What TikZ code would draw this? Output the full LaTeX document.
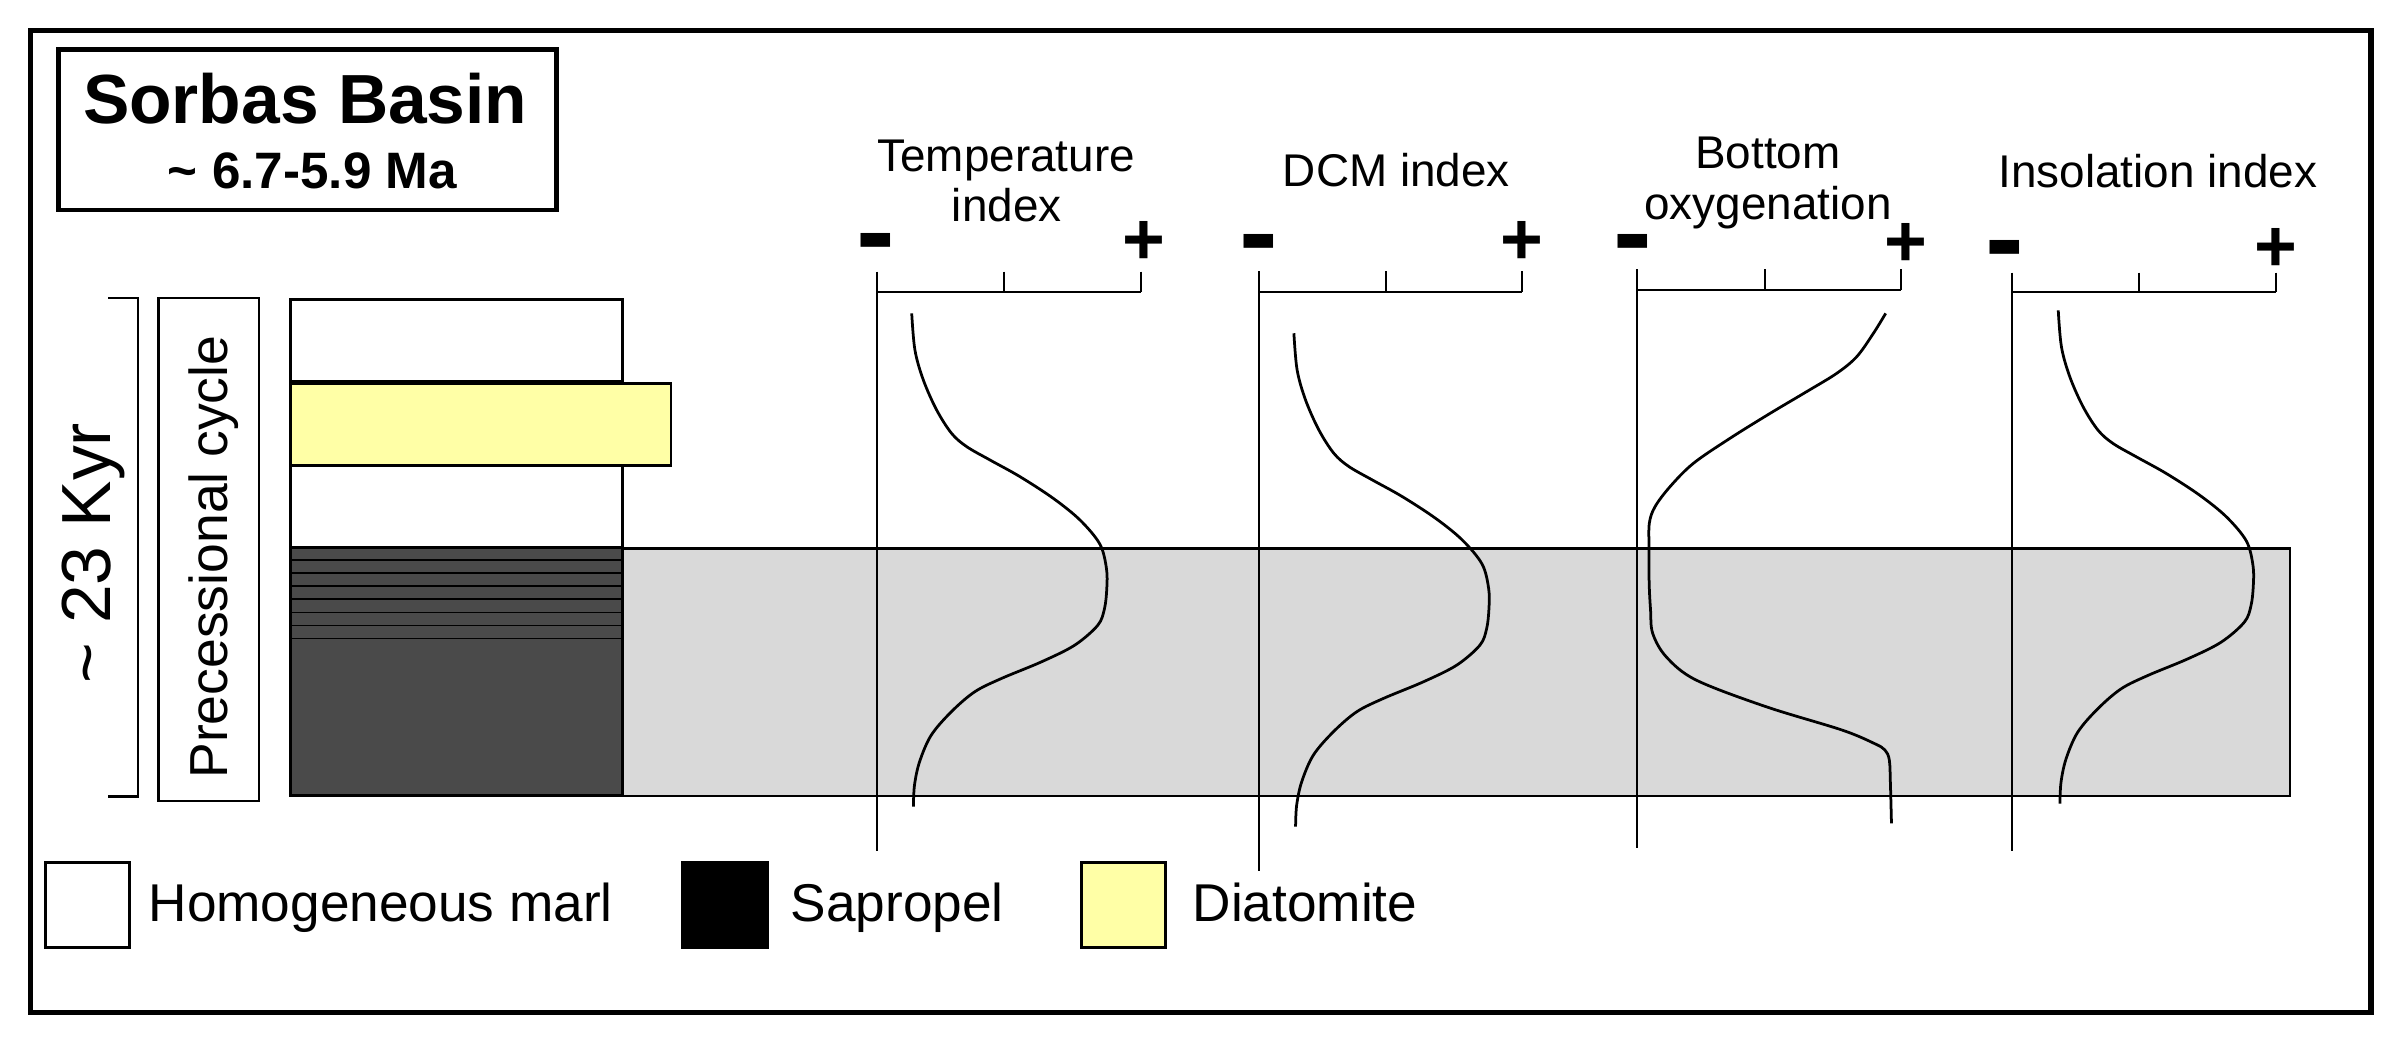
\documentclass[tikz,border=0pt]{standalone}
\usepackage{fontspec}
\setmainfont{Liberation Sans}
\definecolor{sapro}{HTML}{4A4A4A}
\definecolor{band}{HTML}{D9D9D9}
\definecolor{diat}{HTML}{FFFFA6}
\begin{document}
\begin{tikzpicture}[x=1pt,y=-1pt,
  frame/.style={draw=black,line width=3.5pt},
  box/.style={draw=black,line width=1.8pt},
  axis/.style={draw=black,line width=1.3pt},
  curve/.style={draw=black,line width=1.8pt},
  lbl/.style={inner sep=0pt,anchor=base,font=\fontsize{30}{33}\selectfont},
  leg/.style={inner sep=0pt,anchor=base west,font=\fontsize{34.8}{40}\selectfont},
  plussign/.style={inner sep=0pt,font=\bfseries\fontsize{48}{48}\selectfont},
  minussign/.style={inner sep=0pt,font=\bfseries\fontsize{76}{76}\selectfont}]
\useasboundingbox[fill=white] (0,0) rectangle (1568,683);
% outer frame
\draw[frame] (20,20) rectangle (1551,662.4);
% title
\draw[draw=black,line width=3.2pt] (38.3,32.5) rectangle (363.9,137.4);
\node[inner sep=0pt,anchor=base,font=\bfseries\fontsize{45.5}{50}\selectfont] (title) at (199.7,81.1) {Sorbas Basin};
\node[inner sep=0pt,anchor=base,font=\bfseries\fontsize{33.5}{40}\selectfont] (age) at (204.4,123.2) {\textasciitilde{} 6.7-5.9 Ma};
% bracket and cycle label
\draw[line width=1.5pt] (70.7,195) -- (90.5,195) -- (90.5,521) -- (70.7,521);
\node[inner sep=0pt,anchor=base,rotate=90,font=\fontsize{45.5}{50}\selectfont] (kyr) at (72,362) {\textasciitilde{} 23 Kyr};
\draw[line width=1.5pt] (103.7,195) rectangle (169.4,524.1);
\node[inner sep=0pt,anchor=base,rotate=90,font=\fontsize{35}{40}\selectfont] (prec) at (148.9,364.4) {Precessional cycle};
% grey band
\draw[fill=band,line width=1.5pt] (407,358.7) rectangle (1498,520.5);
% lithology column
\draw[box,fill=white] (189.8,195.7) rectangle (407.4,249.4);
\draw[box,fill=white] (189.8,304.6) rectangle (407.4,357.9);
\draw[box,fill=diat] (189.8,251.1) rectangle (438.9,304.6);
\draw[box,fill=sapro] (189.8,357.9) rectangle (407.4,520.5);
\foreach \yy in {366.3,374.8,383.3,391.8,400.7,409.2,417.7}
  \draw[line width=1pt] (189.8,\yy) -- (407.4,\yy);
% axes
\foreach \l/\m/\r/\ay/\tp/\bt in {573.8/656.8/746.3/191.2/177.7/556.5,
    823.6/906.5/995.5/191/177.5/569.6,
    1071.1/1154.3/1243.7/189.7/176.2/555,
    1316/1399.2/1488.6/191.2/178.4/556.5}{
  \draw[axis] (\l,\tp) -- (\l,\bt);
  \draw[axis] (\l,\ay) -- (\r,\ay);
  \draw[axis] (\m,\tp) -- (\m,\ay);
  \draw[axis] (\r,\tp) -- (\r,\ay);
}
% signs
\node[minussign] (m1) at (573,165) {-};
\node[plussign] (p1) at (748.6,159.2) {+};
\node[minussign] (m2) at (823.7,165.3) {-};
\node[plussign] (p2) at (995.5,159.2) {+};
\node[minussign] (m3) at (1068,165.3) {-};
\node[plussign] (p3) at (1246.8,160.3) {+};
\node[minussign] (m4) at (1311.5,169.6) {-};
\node[plussign] (p4) at (1488.9,163.5) {+};
% labels
\node[lbl] (t1a) at (658.2,111.9) {Temperature};
\node[lbl] (t1b) at (658.5,145) {index};
\node[lbl] (t2) at (913.4,121.7) {DCM index};
\node[lbl] (t3a) at (1156.4,110.1) {Bottom};
\node[lbl] (t3b) at (1156.5,143.9) {oxygenation};
\node[lbl] (t4) at (1411.5,122.5) {Insolation index};
% curves: temperature, DCM and insolation share one shape
\foreach \dx/\dy in {0/0,250/13,750/-2}
  \draw[curve,shift={(\dx,\dy)}] plot[smooth,tension=0.55] coordinates {(596.4,205) (598.5,229) (604,248.6) (612.7,268.2) (622.5,283.5) (632.4,292.2) (647.6,300.9) (667.2,311.8) (689,326) (706.5,340.2) (719.5,356) (723.8,372) (724,385) (722.5,398.1) (718.1,409) (702.9,422.1) (681.1,433) (654.9,443.9) (637.5,452.6) (622.2,465.7) (609.1,481) (601.5,498.4) (598.2,513.7) (597.5,527.7)};
% bottom oxygenation
\draw[curve] plot[smooth,tension=0.55] coordinates {(1233.5,205) (1225.5,218) (1214.6,233.3) (1201.5,244.2) (1181.8,256.2) (1157.9,270.4) (1131.7,286.7) (1107.7,303.1) (1092.4,318.4) (1082.6,331.5) (1078.9,342.3) (1078.7,358.7) (1078.8,381.6) (1079.7,399) (1081.1,414.3) (1089.9,429.6) (1109.4,444.8) (1155.3,462.3) (1204.8,477.5) (1226,486.3) (1233,490.6) (1235.9,497.2) (1236.6,512.4) (1237.3,538.6)};
% legend
\draw[box,fill=white] (30,564.3) rectangle (84.5,619.9);
\node[leg] (l1) at (97,602.9) {Homogeneous marl};
\draw[box,fill=black] (446.3,564.3) rectangle (502,619.9);
\node[leg] (l2) at (517,602.9) {Sapropel};
\draw[box,fill=diat] (707.3,564.3) rectangle (762.5,619.9);
\node[leg] (l3) at (780,602.9) {Diatomite};
\end{tikzpicture}
\end{document}
